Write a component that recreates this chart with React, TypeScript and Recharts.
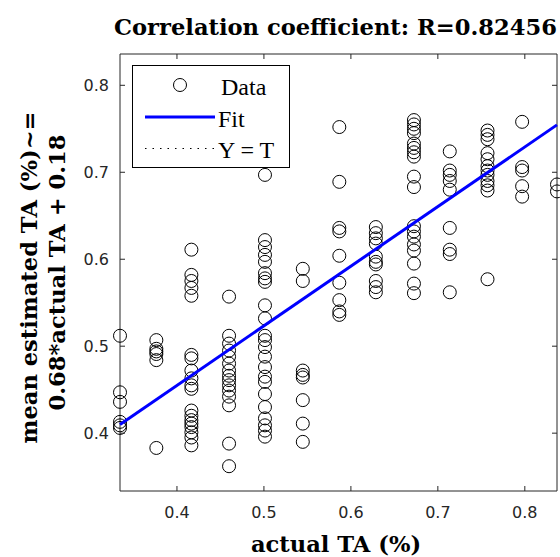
import React from 'react';
import { ScatterChart, Scatter, XAxis, YAxis, Legend, Label } from 'recharts';

// ---- data ----
const xColumns = [0.3345, 0.3763, 0.4166, 0.4599, 0.5012, 0.5447, 0.5867, 0.6287, 0.6725, 0.7137, 0.7571, 0.7969, 0.837];
const col0 = [0.512, 0.447, 0.436, 0.413, 0.409, 0.406];
const col1 = [0.507, 0.497, 0.494, 0.491, 0.484, 0.383];
const col2 = [0.611, 0.582, 0.575, 0.567, 0.558, 0.49, 0.486, 0.472, 0.463, 0.455, 0.451, 0.426, 0.42, 0.415, 0.411, 0.407, 0.401, 0.395, 0.386];
const col3 = [0.557, 0.512, 0.503, 0.495, 0.488, 0.48, 0.472, 0.466, 0.461, 0.455, 0.449, 0.442, 0.432, 0.388, 0.362];
const col4 = [0.697, 0.622, 0.614, 0.605, 0.597, 0.584, 0.578, 0.574, 0.547, 0.532, 0.512, 0.507, 0.499, 0.488, 0.476, 0.465, 0.459, 0.445, 0.43, 0.417, 0.409, 0.403, 0.396];
const col5 = [0.589, 0.575, 0.472, 0.467, 0.464, 0.438, 0.411, 0.39];
const col6 = [0.752, 0.689, 0.636, 0.632, 0.604, 0.573, 0.553, 0.54, 0.536];
const col7 = [0.637, 0.63, 0.624, 0.618, 0.603, 0.597, 0.594, 0.575, 0.568, 0.562];
const col8 = [0.76, 0.755, 0.75, 0.745, 0.733, 0.728, 0.723, 0.718, 0.695, 0.683, 0.638, 0.632, 0.626, 0.617, 0.61, 0.595, 0.572, 0.561];
const col9 = [0.724, 0.702, 0.697, 0.69, 0.68, 0.636, 0.611, 0.606, 0.562];
const col10 = [0.748, 0.743, 0.738, 0.722, 0.715, 0.707, 0.702, 0.697, 0.69, 0.685, 0.679, 0.577];
const col11 = [0.758, 0.706, 0.702, 0.684, 0.672];
const col12 = [0.686, 0.678];
const yColumns = [col0, col1, col2, col3, col4, col5, col6, col7, col8, col9, col10, col11, col12];

const fitX = [0.3345, 0.837];
const fitY = [0.41, 0.7545];

const xTicks = [0.4, 0.5, 0.6, 0.7, 0.8];
const yTicks = [0.4, 0.5, 0.6, 0.7, 0.8];
const xDomain = [0.3345, 0.837];
const yDomain = [0.3335, 0.836];

const titleText = 'Correlation coefficient: R=0.82456';
const xLabelText = 'actual TA (%)';
const yLabelLines = ['mean estimated TA (%)~=', '0.68*actual TA + 0.18'];
const legendLabels = ['Data', 'Fit', 'Y = T'];

// ---- build tables ----
const scatterData = xColumns.flatMap((x, i) => yColumns[i].map((y) => ({ x, y })));
const fitData = fitX.map((x, i) => ({ x, y: fitY[i] }));

const AX = '#262626';
const TICK_FONT = 'DejaVu Sans';
const SERIF_BOLD = 'DejaVu Serif';
const SERIF_SIZE = 22.6;

const BottomTick = (p: any) => (
  <g>
    <line x1={p.x} x2={p.x} y1={p.y} y2={p.y - 5} stroke={AX} strokeWidth={1} />
    <text x={p.x} y={p.y + 27} textAnchor="middle" fontFamily={TICK_FONT} fontSize={16} fill={AX}>
      {Number(p.payload.value).toFixed(1)}
    </text>
  </g>
);
const TopTick = (p: any) => (
  <line x1={p.x} x2={p.x} y1={p.y} y2={p.y + 5} stroke={AX} strokeWidth={1} />
);
const LeftTick = (p: any) => (
  <g>
    <line x1={p.x} x2={p.x + 5} y1={p.y} y2={p.y} stroke={AX} strokeWidth={1} />
    <text x={p.x - 11} y={p.y + 6} textAnchor="end" fontFamily={TICK_FONT} fontSize={16} fill={AX}>
      {Number(p.payload.value).toFixed(1)}
    </text>
  </g>
);
const RightTick = (p: any) => (
  <line x1={p.x} x2={p.x - 5} y1={p.y} y2={p.y} stroke={AX} strokeWidth={1} />
);

const Circle = (p: any) => (
  <circle cx={p.cx} cy={p.cy} r={6.5} fill="none" stroke="#000" strokeWidth={1} />
);
const NoShape = () => <g />;

const LegendBox = () => (
  <svg width={159} height={104} style={{ display: 'block' }}>
    <rect x={0.5} y={0.5} width={157} height={102} fill="#fff" stroke="#000" strokeWidth={1} />
    <circle cx={48} cy={20} r={6.5} fill="none" stroke="#000" strokeWidth={1} />
    <text x={89} y={30} fontFamily="Liberation Serif" fontSize={24} fill="#000">{legendLabels[0]}</text>
    <line x1={13} x2={83} y1={52} y2={52} stroke="#0000ff" strokeWidth={3} />
    <text x={86} y={62} fontFamily="Liberation Serif" fontSize={24} fill="#000">{legendLabels[1]}</text>
    <line x1={13} x2={83} y1={83.5} y2={83.5} stroke="#000" strokeWidth={1.2} strokeDasharray="1.5 6" />
    <text x={86} y={93} fontFamily="Liberation Serif" fontSize={24} fill="#000">{legendLabels[2]}</text>
  </svg>
);

const TitleContent = () => (
  <text x={335.5} y={35} textAnchor="middle" fontFamily={SERIF_BOLD} fontWeight="bold" fontSize={SERIF_SIZE} fill="#000">
    {titleText}
  </text>
);
const XLabelContent = () => (
  <text x={336} y={552} textAnchor="middle" fontFamily={SERIF_BOLD} fontWeight="bold" fontSize={SERIF_SIZE} fill="#000">
    {xLabelText}
  </text>
);
const YLabelContent = () => (
  <g>
    <g transform="translate(37, 277.5) rotate(-90)">
      <text x={0} y={0} textAnchor="middle" fontFamily={SERIF_BOLD} fontWeight="bold" fontSize={SERIF_SIZE} fill="#000">
        {yLabelLines[0]}
      </text>
    </g>
    <g transform="translate(65, 272.5) rotate(-90)">
      <text x={0} y={0} textAnchor="middle" fontFamily={SERIF_BOLD} fontWeight="bold" fontSize={SERIF_SIZE} fill="#000">
        {yLabelLines[1]}
      </text>
    </g>
  </g>
);

export default function App() {
  return (
    <div style={{ position: 'absolute', left: 0, top: 0, width: 560, height: 557, overflow: 'hidden', background: '#fff' }}>
      <ScatterChart width={560} height={557} margin={{ top: 44, right: 0, bottom: 0, left: 0 }}>
        <XAxis
          xAxisId={0}
          type="number"
          dataKey="x"
          domain={xDomain}
          ticks={xTicks}
          height={66}
          tickSize={0}
          tickMargin={0}
          tick={BottomTick}
          axisLine={{ stroke: AX, strokeWidth: 1 }}
          tickLine={false}
        >
          <Label content={XLabelContent} />
        </XAxis>
        <XAxis
          xAxisId="top"
          orientation="top"
          type="number"
          dataKey="x"
          domain={xDomain}
          ticks={xTicks}
          height={10}
          tickSize={0}
          tickMargin={0}
          tick={TopTick}
          axisLine={{ stroke: AX, strokeWidth: 1 }}
          tickLine={false}
        >
          <Label content={TitleContent} />
        </XAxis>
        <YAxis
          yAxisId={0}
          type="number"
          dataKey="y"
          domain={yDomain}
          ticks={yTicks}
          width={120}
          tickSize={0}
          tickMargin={0}
          tick={LeftTick}
          axisLine={{ stroke: AX, strokeWidth: 1 }}
          tickLine={false}
        >
          <Label content={YLabelContent} />
        </YAxis>
        <YAxis
          yAxisId="right"
          orientation="right"
          type="number"
          dataKey="y"
          domain={yDomain}
          ticks={yTicks}
          width={3}
          tickSize={0}
          tickMargin={0}
          tick={RightTick}
          axisLine={{ stroke: AX, strokeWidth: 1 }}
          tickLine={false}
        />
        <Scatter
          name="Data"
          data={scatterData}
          xAxisId={0}
          yAxisId={0}
          shape={Circle}
          isAnimationActive={false}
        />
        <Scatter
          name="Fit"
          data={fitData}
          xAxisId={0}
          yAxisId={0}
          shape={NoShape}
          line={{ stroke: '#0000ff', strokeWidth: 3 }}
          lineType="joint"
          isAnimationActive={false}
        />
        <Scatter
          name="Frame"
          data={fitData}
          xAxisId="top"
          yAxisId="right"
          shape={NoShape}
          isAnimationActive={false}
        />
        <Legend
          layout="vertical"
          align="center"
          verticalAlign="middle"
          wrapperStyle={{ left: 132, top: 65, width: 159, height: 104 }}
          content={LegendBox}
        />
      </ScatterChart>
    </div>
  );
}
